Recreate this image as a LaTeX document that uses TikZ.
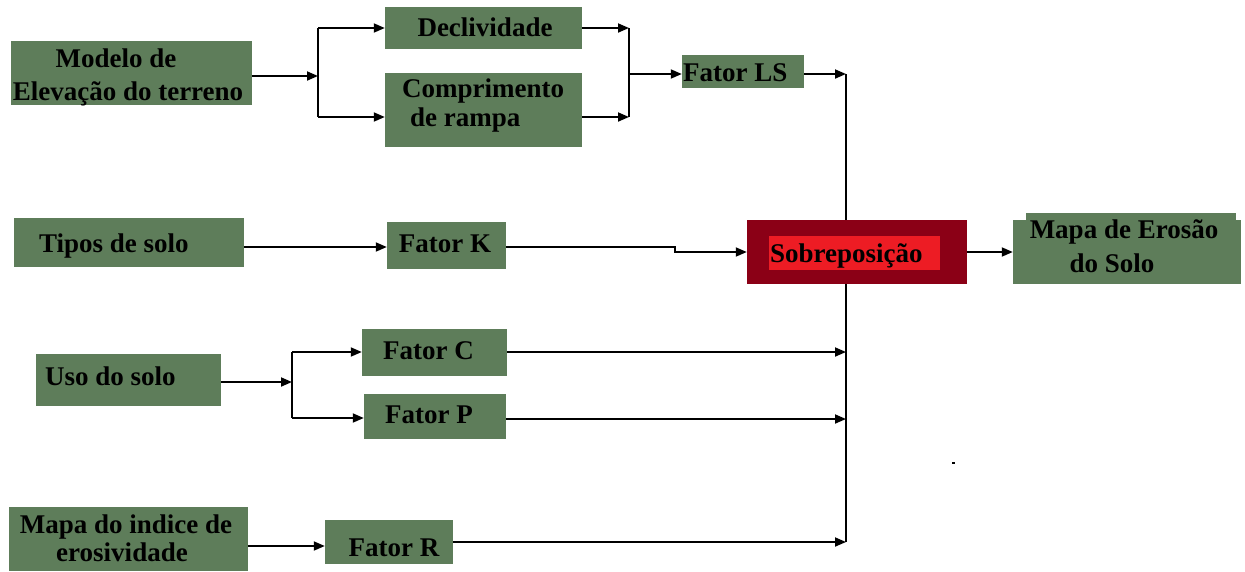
\documentclass[tikz,border=0pt]{standalone}
\usepackage{fontspec}
\setmainfont{Liberation Serif}
\usetikzlibrary{arrows.meta,calc}
\definecolor{boxgreen}{RGB}{94,125,90}
\definecolor{darkred}{RGB}{139,0,22}
\definecolor{brightred}{RGB}{237,28,36}
\begin{document}
\begin{tikzpicture}[x=1pt,y=-1pt,
  box/.style={fill=boxgreen, draw=none, inner sep=0pt, rectangle},
  lbl/.style={inner sep=0pt, font=\fontsize{27}{32}\selectfont\bfseries, text=black},
  conn/.style={line width=1.8pt, draw=black},
  arr/.style={conn, -{Triangle[length=11pt,width=9pt]}}]
\useasboundingbox[fill=white] (0,0) rectangle (1245,571);

% boxes
\node[box, minimum width=241pt, minimum height=64pt] (modelo) at (131.5,73) {};
\node[box, minimum width=197pt, minimum height=42pt] (decl) at (483.5,28) {};
\node[box, minimum width=197pt, minimum height=74pt] (comp) at (483.5,110) {};
\node[box, minimum width=122pt, minimum height=33pt] (ls) at (743,71.5) {};
\node[box, minimum width=230pt, minimum height=49pt] (tipos) at (129,242.5) {};
\node[box, minimum width=119pt, minimum height=47pt] (k) at (446.5,245.5) {};
\node[fill=darkred, inner sep=0pt, minimum width=220pt, minimum height=64pt] (sob) at (857,252) {};
\node[fill=brightred, inner sep=0pt, minimum width=171pt, minimum height=34pt] (sobin) at (854.5,253) {};
\node[box, minimum width=228pt, minimum height=64pt] (mapa) at (1127,252) {};
\node[box, minimum width=210pt, minimum height=9pt] (mapatop) at (1131,217) {};
\node[box, minimum width=185pt, minimum height=52pt] (uso) at (128.5,380) {};
\node[box, minimum width=145pt, minimum height=47pt] (c) at (434.5,352.5) {};
\node[box, minimum width=142pt, minimum height=45pt] (p) at (435,416.5) {};
\node[box, minimum width=239pt, minimum height=64pt] (mapaidx) at (128.5,539) {};
\node[box, minimum width=128pt, minimum height=44pt] (r) at (389,542) {};

% texts
\node[lbl, anchor=base] (modeloA) at (116,67) {Modelo de};
\node[lbl, anchor=base] (modeloB) at (128,100) {Elevação do terreno};
\node[lbl, anchor=base] (declT) at (485,36) {Declividade};
\node[lbl, anchor=base west] (compA) at (402,97) {Comprimento};
\node[lbl, anchor=base west] (compB) at (410,126) {de rampa};
\node[lbl, anchor=base west] (lsT) at (683,81) {Fator LS};
\node[lbl, anchor=base west] (tiposT) at (39,252) {Tipos de solo};
\node[lbl, anchor=base] (kT) at (445,252) {Fator K};
\node[lbl, anchor=base west] (sobT) at (770,262) {Sobreposição};
\node[lbl, anchor=base] (mapaA) at (1124,238) {Mapa de Erosão};
\node[lbl, anchor=base] (mapaB) at (1112,272) {do Solo};
\node[lbl, anchor=base west] (usoT) at (45,385) {Uso do solo};
\node[lbl, anchor=base west] (cT) at (383,359) {Fator C};
\node[lbl, anchor=base west] (pT) at (385,423) {Fator P};
\node[lbl, anchor=base] (mapaidxA) at (126,533) {Mapa do indice de};
\node[lbl, anchor=base] (mapaidxB) at (122,561) {erosividade};
\node[lbl, anchor=base] (rT) at (394,556) {Fator R};

% junction coordinates
\coordinate (j1) at (318,76);
\coordinate (j1t) at (318,28);
\coordinate (j1b) at (318,117);
\coordinate (j2t) at (629,28);
\coordinate (j2m) at (629,74);
\coordinate (j2b) at (629,117);
\coordinate (bt) at (846,74);
\coordinate (bc) at (846,352);
\coordinate (bp) at (846,419);
\coordinate (bb) at (846,542);
\coordinate (k1) at (675,247);
\coordinate (k2) at (675,252);
\coordinate (j3) at (292,382);
\coordinate (j3t) at (292,352);
\coordinate (j3b) at (292,418);
\coordinate (m1) at (300,546);

% connectors
\draw[arr] (modelo.east |- j1) -- (j1);
\draw[conn] (j1t) -- (j1b);
\draw[arr] (j1t) -- (decl.west |- j1t);
\draw[arr] (j1b) -- (comp.west |- j1b);
\draw[arr] (decl.east |- j2t) -- (j2t);
\draw[arr] (comp.east |- j2b) -- (j2b);
\draw[conn] (j2t) -- (j2b);
\draw[arr] (j2m) -- (ls.west |- j2m);
\draw[arr] (ls.east |- bt) -- (bt);
\draw[conn] (bt) -- (sob.north -| bt);
\draw[conn] (sob.south -| bt) -- (bb);
\draw[arr] (tipos.east |- k1) -- (k.west |- k1);
\draw[arr] (k.east |- k1) -- (k1) -- (k2) -- (sob.west |- k2);
\draw[arr] (sob.east) -- (mapa.west);
\draw[arr] (uso.east |- j3) -- (j3);
\draw[conn] (j3t) -- (j3b);
\draw[arr] (j3t) -- (c.west |- j3t);
\draw[arr] (j3b) -- (p.west |- j3b);
\draw[arr] (c.east |- bc) -- (bc);
\draw[arr] (p.east |- bp) -- (bp);
\draw[arr] (mapaidx.east |- m1) -- (r.west |- m1);
\draw[arr] (r.east |- bb) -- (bb);

% stray speck
\fill[black] (952,462) rectangle (955,464);
\end{tikzpicture}
\end{document}
